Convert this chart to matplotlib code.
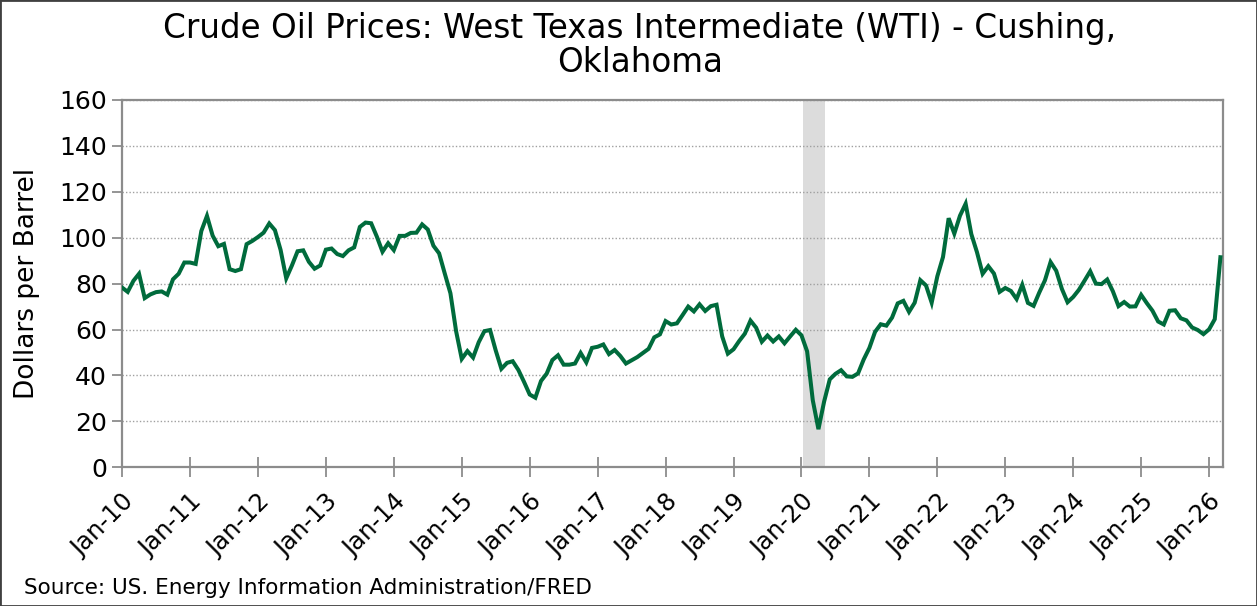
import matplotlib.pyplot as plt
import numpy as np
from matplotlib.patches import Rectangle

# monthly WTI averages, Jan 2010 .. Mar 2026 (dollars per barrel)
wti = [
    78.3, 76.4, 81.2, 84.3, 73.7, 75.3, 76.3, 76.6, 75.2, 81.9, 84.3, 89.2,      # 2010
    89.2, 88.6, 102.9, 109.5, 100.9, 96.3, 97.3, 86.3, 85.5, 86.3, 97.2, 98.6,   # 2011
    100.3, 102.2, 106.2, 103.3, 94.7, 82.3, 87.9, 94.1, 94.5, 89.5, 86.5, 87.9,  # 2012
    94.8, 95.3, 92.9, 92.0, 94.5, 95.8, 104.7, 106.6, 106.3, 100.5, 93.9, 97.6,  # 2013
    94.6, 100.8, 100.8, 102.1, 102.2, 105.8, 103.6, 96.5, 93.2, 84.4, 75.8, 59.3, # 2014
    47.2, 50.6, 47.8, 54.5, 59.3, 59.8, 50.9, 42.9, 45.5, 46.2, 42.4, 37.2,      # 2015
    31.7, 30.3, 37.6, 40.8, 46.7, 48.8, 44.7, 44.7, 45.2, 49.8, 45.7, 52.0,      # 2016
    52.5, 53.5, 49.3, 51.1, 48.5, 45.2, 46.6, 48.0, 49.8, 51.6, 56.6, 57.9,      # 2017
    63.7, 62.2, 62.7, 66.3, 70.0, 67.9, 71.0, 68.1, 70.2, 70.8, 57.0, 49.5,      # 2018
    51.4, 55.0, 58.2, 63.9, 60.8, 54.7, 57.4, 54.8, 57.0, 54.0, 57.0, 59.9,      # 2019
    57.5, 50.5, 29.2, 16.6, 28.6, 38.3, 40.7, 42.3, 39.6, 39.4, 40.9, 47.0,      # 2020
    52.0, 59.0, 62.3, 61.7, 65.2, 71.4, 72.5, 67.7, 71.7, 81.5, 79.2, 71.7,      # 2021
    83.2, 91.6, 108.5, 101.8, 109.6, 114.8, 101.6, 93.7, 84.3, 87.6, 84.4, 76.4, # 2022
    78.1, 76.8, 73.3, 79.5, 71.6, 70.3, 76.1, 81.4, 89.4, 85.6, 77.7, 71.9,      # 2023
    74.2, 77.3, 81.3, 85.4, 80.0, 79.8, 81.8, 76.7, 70.2, 72.0, 70.0, 70.1,      # 2024
    75.1, 71.5, 68.2, 63.5, 62.2, 68.2, 68.4, 64.9, 64.0, 60.9, 59.8, 58.0,      # 2025
    60.1, 64.5, 91.5,                                                            # 2026
]
year_labels = ['Jan-%02d' % y for y in range(10, 27)]
recession = (121, 123)   # Feb 2020 .. Apr 2020, month index from Jan 2010

months = np.arange(len(wti))

fig = plt.figure(figsize=(12.57, 6.06), dpi=100)
ax = fig.add_axes([0.0971, 0.2289, 0.8756, 0.6061])

ax.axvspan(recession[0] - 0.8, recession[1] + 1.2, color='#dcdcdc', lw=0, zorder=0)
ax.plot(months, wti, color='#006b3c', linewidth=2.9, solid_joinstyle='miter', zorder=3)

ax.set_xlim(0, months[-1] + 0.4)
ax.set_ylim(0, 160)
ax.set_yticks(range(0, 161, 20))
ax.set_xticks(np.arange(len(year_labels)) * 12)
ax.set_xticklabels(year_labels, rotation=45, ha='right', va='top',
                   rotation_mode='anchor', fontsize=17.5)
ax.tick_params(axis='y', labelsize=18, direction='out', length=7,
               width=1.3, color='#8c8c8c', pad=4)
ax.tick_params(axis='x', direction='inout', length=14, width=1.3,
               color='#8c8c8c', pad=9)
ax.yaxis.grid(True, linestyle=(0, (1, 1.5)), color='#a0a0a0', linewidth=1.0)
ax.set_axisbelow(True)
for s in ax.spines.values():
    s.set_color('#8c8c8c')
    s.set_linewidth(1.6)

ax.set_ylabel('Dollars per Barrel', fontsize=19, labelpad=14)

fig.text(0.509, 0.925, 'Crude Oil Prices: West Texas Intermediate (WTI) - Cushing,\nOklahoma',
         ha='center', va='center', fontsize=23.5, linespacing=1.05)
fig.text(0.019, 0.03, 'Source: US. Energy Information Administration/FRED',
         ha='left', va='center', fontsize=15.5)

fig.patches.append(Rectangle((0, 0), 1, 1, transform=fig.transFigure,
                             fill=False, edgecolor='#404040', lw=2))

fig.savefig('out.png', dpi=100)
